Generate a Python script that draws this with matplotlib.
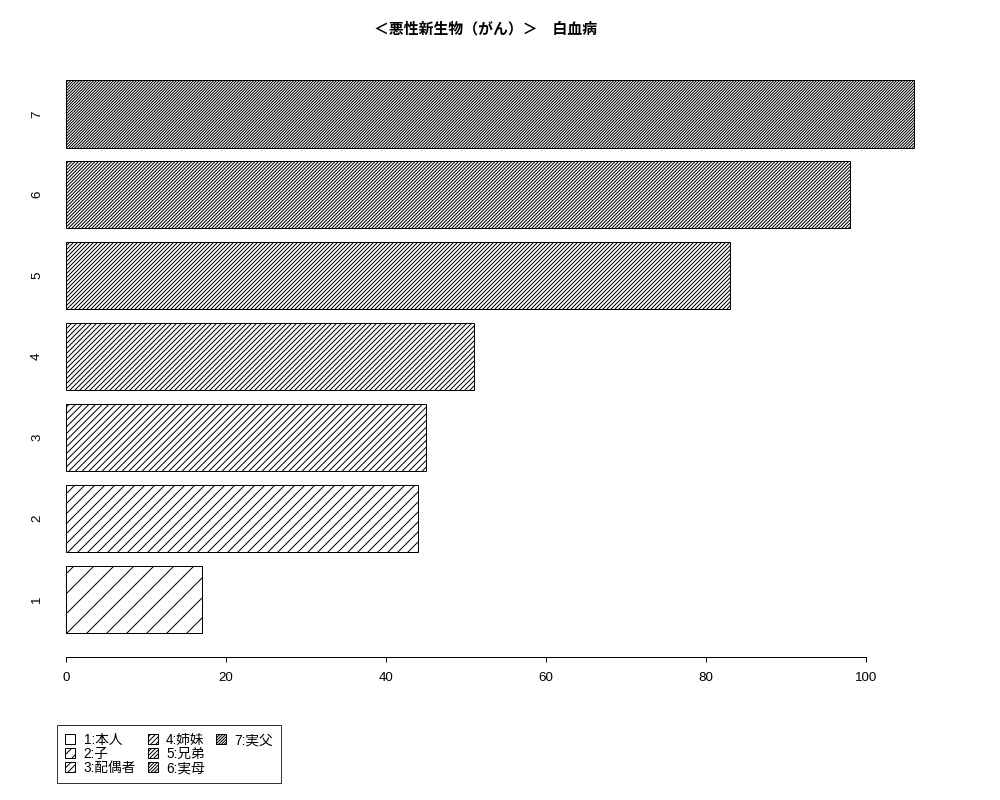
import numpy as np
import matplotlib
matplotlib.use("Agg")
import matplotlib.pyplot as plt
import matplotlib.patches as mpatches

plt.rcParams["font.family"] = ["Liberation Sans", "Noto Sans CJK JP", "DejaVu Sans"]
plt.rcParams["hatch.linewidth"] = 0.6

# data
categories = ["1", "2", "3", "4", "5", "6", "7"]
values = [17, 44, 45, 51, 83, 98, 106]
legend_labels = ["1:本人", "2:子", "3:配偶者", "4:姉妹", "5:兄弟", "6:実母", "7:実父"]
title = "＜悪性新生物（がん）＞　白血病"

W, H, DPI = 1000, 800, 120
fig = plt.figure(figsize=(W / DPI, H / DPI), dpi=DPI)
ax = fig.add_axes([48 / W, 1 - 657 / H, (946 - 48) / W, (657 - 58) / H])

pos = np.arange(1, len(values) + 1)
bars = ax.barh(pos, values, height=1 / 1.2, color="white",
               edgecolor="black", linewidth=0.6)
# hatch gets denser for each bar
for i, b in enumerate(bars):
    b.set_hatch("/" * (2 * (i + 1)))

ax.set_xlim(-2.25, 110)
ax.set_ylim(0.287, 7.69)

for s in ["top", "right", "left"]:
    ax.spines[s].set_visible(False)
ax.spines["bottom"].set_bounds(0, 100)
ax.spines["bottom"].set_linewidth(0.6)
ax.set_xticks(np.arange(0, 101, 20))
ax.tick_params(axis="x", length=3, width=0.6, pad=6, labelsize=8)
ax.set_yticks(pos)
ax.set_yticklabels(categories, rotation=90, va="center")
ax.tick_params(axis="y", length=0, pad=3, labelsize=8)

fig.text(0.486, 1 - 29 / H, title, ha="center", va="center",
         fontsize=8.9, fontweight="bold")

handles = [mpatches.Patch(facecolor="white", edgecolor="black", linewidth=0.6,
                          hatch="/" * (2 * (i + 1))) for i in range(len(legend_labels))]
labels = list(legend_labels)
# blank slots so the columns fill 3, 3, 1 like the original
for _ in range(2):
    handles.append(mpatches.Patch(visible=False))
    labels.append("")
leg = fig.legend(handles, labels, loc="upper left",
                 bbox_to_anchor=(57 / W, 1 - 725 / H), ncol=3,
                 fontsize=8.2, handlelength=0.75, handleheight=0.75,
                 handletextpad=0.6, columnspacing=0.85, labelspacing=0.0,
                 borderpad=0.6, borderaxespad=0, fancybox=False, frameon=True)
leg.get_frame().set_edgecolor("black")
leg.get_frame().set_linewidth(0.6)

fig.savefig("out.png", dpi=DPI)
